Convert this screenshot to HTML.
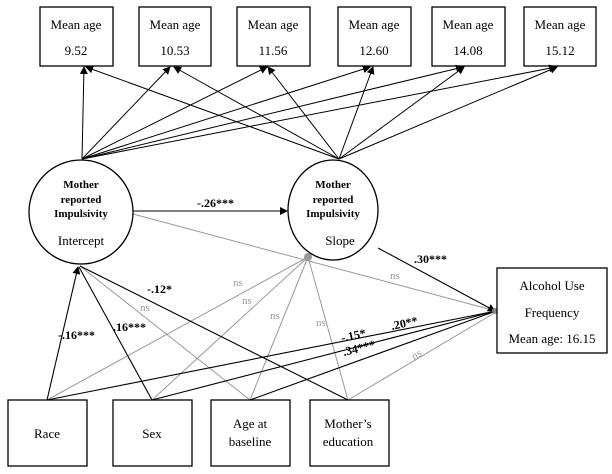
<!DOCTYPE html>
<html><head><meta charset="utf-8"><style>
html,body{margin:0;padding:0;background:#fff;}
svg{display:block;font-family:"Liberation Serif",serif;}
</style></head><body>
<svg width="612" height="474" viewBox="0 0 612 474" xmlns="http://www.w3.org/2000/svg">
<defs>
<marker id="a" markerWidth="8" markerHeight="8" refX="7" refY="4" orient="auto" markerUnits="userSpaceOnUse"><path d="M0,0 L8,4 L0,8z" fill="#000"/></marker>
<marker id="g" markerWidth="8" markerHeight="8" refX="7" refY="4" orient="auto" markerUnits="userSpaceOnUse"><path d="M0,0 L8,4 L0,8z" fill="#888"/></marker>
</defs>
<g fill="#fff" stroke="#000" stroke-width="1.3">
<rect x="40" y="7" width="73" height="59"/>
<rect x="139" y="7" width="72" height="59"/>
<rect x="237" y="7" width="73" height="59"/>
<rect x="338" y="7" width="73" height="59"/>
<rect x="432" y="7" width="73" height="59"/>
<rect x="524" y="7" width="72" height="59"/>
</g>
<g font-size="13" text-anchor="middle">
<text x="76" y="29">Mean age</text><text x="76" y="55">9.52</text>
<text x="175" y="29">Mean age</text><text x="175" y="55">10.53</text>
<text x="273" y="29">Mean age</text><text x="273" y="55">11.56</text>
<text x="374" y="29">Mean age</text><text x="374" y="55">12.60</text>
<text x="468" y="29">Mean age</text><text x="468" y="55">14.08</text>
<text x="560" y="29">Mean age</text><text x="560" y="55">15.12</text>
</g>
<g stroke="#000" stroke-width="1" marker-end="url(#a)">
<line x1="82" y1="159" x2="84" y2="67"/>
<line x1="82" y1="159" x2="170" y2="67"/>
<line x1="82" y1="159" x2="267" y2="67"/>
<line x1="82" y1="159" x2="370" y2="67"/>
<line x1="82" y1="159" x2="463" y2="67"/>
<line x1="82" y1="159" x2="556" y2="67"/>
<line x1="339" y1="159" x2="86" y2="67"/>
<line x1="339" y1="159" x2="174" y2="67"/>
<line x1="339" y1="159" x2="268" y2="67"/>
<line x1="339" y1="159" x2="373" y2="67"/>
<line x1="339" y1="159" x2="464" y2="67"/>
<line x1="339" y1="159" x2="557" y2="67"/>
</g>
<!-- lower paths -->
<g stroke="#999" stroke-width="1" fill="none">
<line x1="133" y1="214" x2="496" y2="311"/>
<line x1="250" y1="400" x2="80" y2="266"/>
<line x1="47" y1="400" x2="308" y2="257"/>
<line x1="152" y1="400" x2="308" y2="257"/>
<line x1="250" y1="400" x2="308" y2="257"/>
<line x1="348" y1="400" x2="308" y2="257"/>
<line x1="348" y1="400" x2="496" y2="312"/>
</g>
<g stroke="#000" stroke-width="1.1" fill="none">
<line x1="47" y1="400" x2="78" y2="267" marker-end="url(#a)"/>
<line x1="152" y1="400" x2="79" y2="267"/>
<line x1="348" y1="400" x2="80" y2="266"/>
<line x1="133" y1="211" x2="287" y2="211" marker-end="url(#a)"/>
<line x1="378" y1="248" x2="495" y2="311" marker-end="url(#a)"/>
<line x1="47" y1="400" x2="496" y2="311"/>
<line x1="152" y1="400" x2="496" y2="311"/>
<line x1="250" y1="400" x2="496" y2="311"/>
</g>
<circle cx="308" cy="257" r="4" fill="#999"/>
<circle cx="495" cy="311" r="3" fill="#888"/>
<g fill="#fff" stroke="#000" stroke-width="1.3">
<ellipse cx="81" cy="212" rx="52" ry="52"/>
<ellipse cx="333" cy="210" rx="45" ry="50"/>
<rect x="497" y="268" width="110" height="85"/>
<rect x="8" y="400" width="79" height="66"/>
<rect x="113" y="400" width="79" height="66"/>
<rect x="211" y="400" width="79" height="66"/>
<rect x="310" y="400" width="79" height="66"/>
</g>
<g font-size="11" text-anchor="middle" font-weight="bold">
<text x="81" y="188">Mother</text>
<text x="81" y="203">reported</text>
<text x="81" y="217">Impulsivity</text>
<text x="333" y="188">Mother</text>
<text x="333" y="203">reported</text>
<text x="333" y="217">Impulsivity</text>
</g>
<g font-size="13" text-anchor="middle">
<text x="81" y="245">Intercept</text>
<text x="340" y="245">Slope</text>
<text x="552" y="290">Alcohol Use</text>
<text x="552" y="317">Frequency</text>
<text x="552" y="343">Mean age: 16.15</text>
<text x="47" y="438">Race</text>
<text x="152" y="438">Sex</text>
<text x="250" y="428">Age at</text>
<text x="250" y="446">baseline</text>
<text x="348" y="428">Mother’s</text>
<text x="348" y="446">education</text>
</g>
<g font-size="12" font-weight="bold">
<text x="197" y="207">-.26***</text>
<text x="414" y="263">.30***</text>
<text x="58" y="339">-.16***</text>
<text x="113" y="331">.16***</text>
<text x="147" y="293">-.12*</text>
<text x="392" y="330" transform="rotate(-12 392 330)">.20**</text>
<text x="342" y="342" transform="rotate(-12 342 342)">-.15*</text>
<text x="344" y="356" transform="rotate(-14 344 356)">.34***</text>
</g>
<g font-size="11" fill="#999">
<text x="233" y="286">ns</text>
<text x="242" y="304">ns</text>
<text x="270" y="319">ns</text>
<text x="316" y="326">ns</text>
<text x="140" y="311">ns</text>
<text x="390" y="279">ns</text>
<text x="414" y="360" transform="rotate(-30 414 360)">ns</text>
</g>
</svg>
</body></html>
